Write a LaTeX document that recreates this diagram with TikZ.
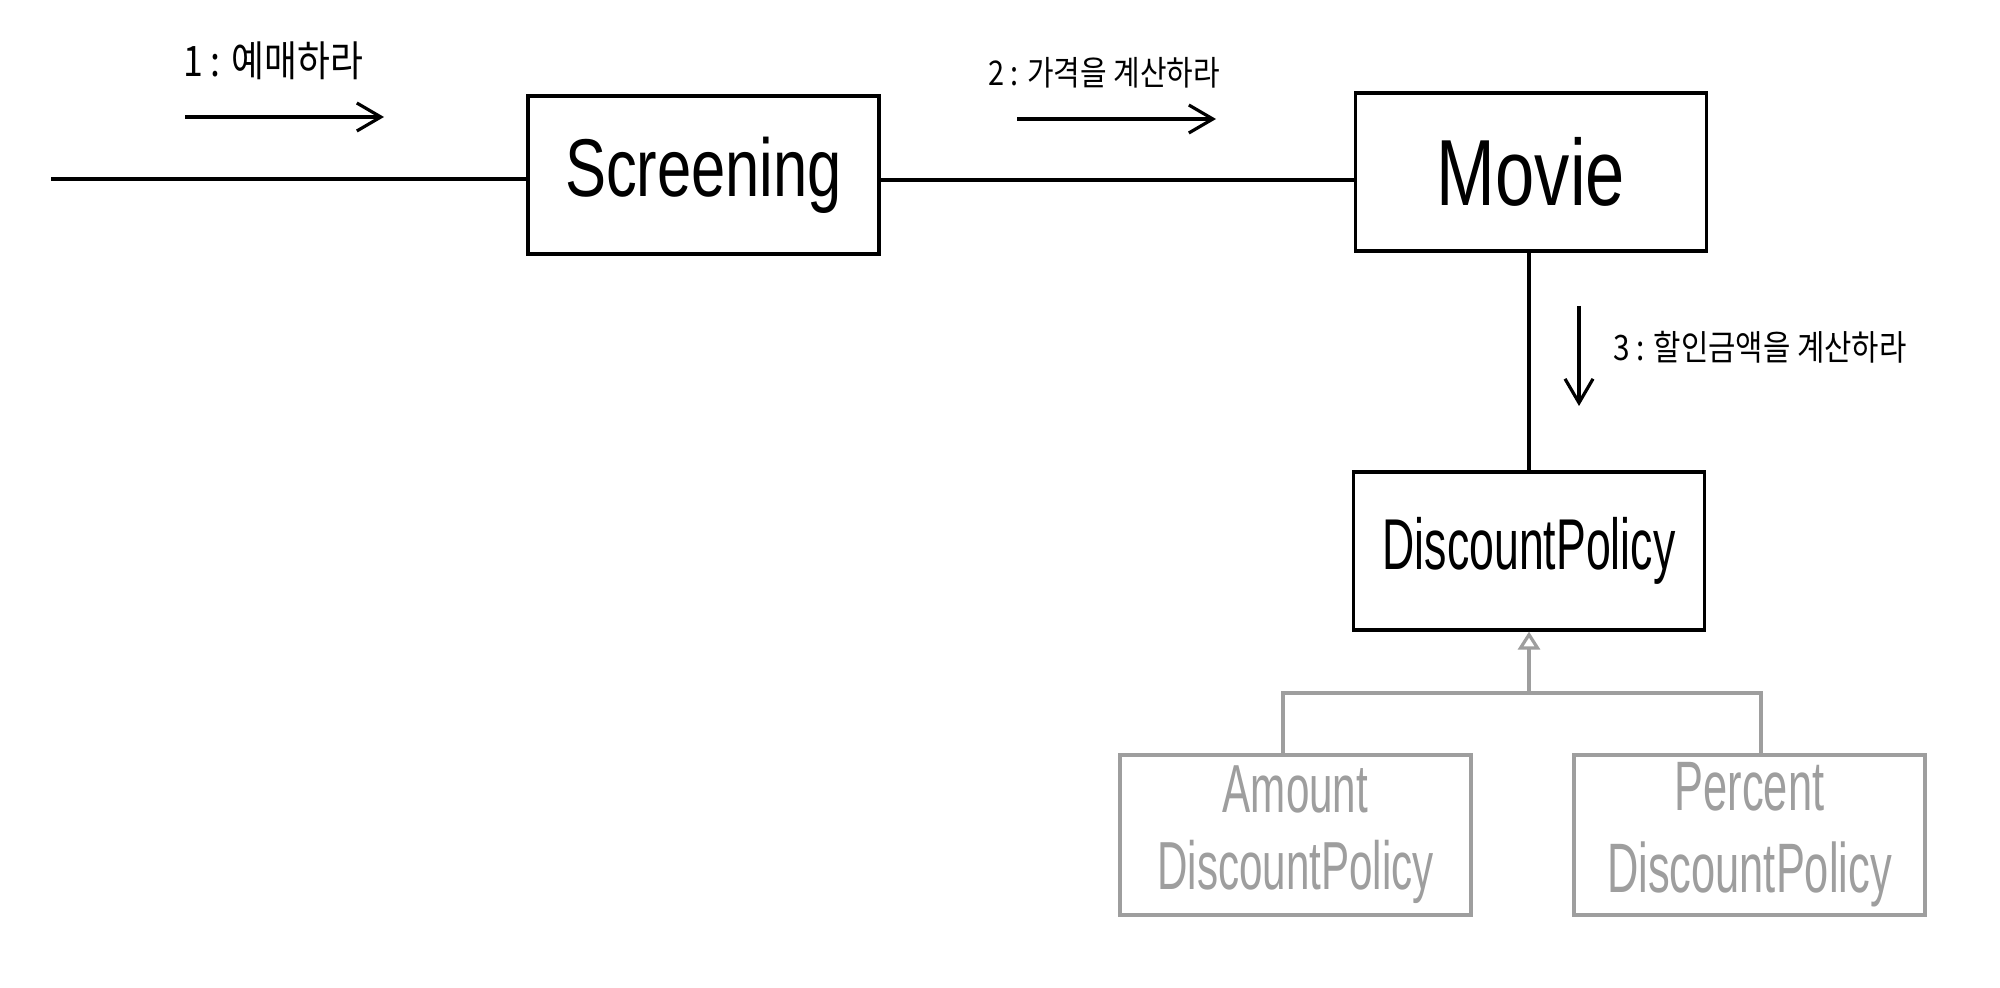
\documentclass[tikz,border=0pt]{standalone}
\usepackage{fontspec}
\usetikzlibrary{arrows.meta}
\newfontfamily\kr[FakeStretch=0.85]{Noto Sans CJK KR}
\newfontfamily\handA[FakeStretch=0.75]{Liberation Sans}
\newfontfamily\handB[FakeStretch=0.62]{Liberation Sans}
\definecolor{ink}{HTML}{000000}
\definecolor{lightink}{HTML}{9E9E9E}
\tikzset{
  cls/.style={draw=ink, line width=1.6pt, rectangle, inner sep=0pt,
    minimum width=175.5pt, minimum height=79pt, align=center, text=ink},
  subcls/.style={cls, draw=lightink, text=lightink, minimum height=80pt},
  link/.style={draw=ink, line width=1.6pt},
  sublink/.style={draw=lightink, line width=1.6pt},
  msg/.style={draw=ink, line width=1.6pt, -{Straight Barb[length=12pt,width=14pt]}},
  gen/.style={sublink, -{Triangle[open,length=9pt,width=11pt,fill=white]}},
  lbl/.style={text=ink, inner sep=0pt}
}
\begin{document}
\begin{tikzpicture}[x=0.5pt, y=-0.5pt]
\useasboundingbox (0,0) rectangle (2000,988);
\fill[white] (0,0) rectangle (2000,988);

% classes
\node[cls, font={\handA\fontsize{41pt}{46pt}\selectfont}] (scr) at (703.5,175) {Screening};
\node[cls, font={\handA\fontsize{47pt}{52pt}\selectfont}] (movie) at (1531,172) {Movie};
\node[cls, font={\handB\fontsize{36pt}{40pt}\selectfont}] (dp) at (1529,551) {DiscountPolicy};
\node[subcls, font={\handB\fontsize{34pt}{38.5pt}\selectfont}] (amount) at (1295.5,835) {Amount\\DiscountPolicy};
\node[subcls, font={\handB\fontsize{35pt}{41pt}\selectfont}] (percent) at (1749.5,835) {Percent\\DiscountPolicy};

% links
\coordinate (start) at (51,179);
\draw[link] (start) -- (start -| scr.west);
\draw[link] (scr.east |- 0,180) coordinate (se) -- (se -| movie.west);
\draw[link] (movie.south -| dp.north) -- (dp.north);

% generalization
\coordinate (jl) at (1283,693);
\coordinate (jr) at (1761,693);
\coordinate (jm) at (1529,693);
\draw[sublink] (amount.north -| jl) -- (jl) -- (jr) -- (percent.north -| jr);
\draw[gen] (jm) -- (dp.south);

% messages
\coordinate (a1s) at (185,117);
\coordinate (a1e) at (384,117);
\draw[msg] (a1s) -- (a1e);
\node[lbl, font={\kr\fontsize{21pt}{24pt}\selectfont}] (l1) at (273,61) {1 : 예매하라};

\coordinate (a2s) at (1017,119);
\coordinate (a2e) at (1216,119);
\draw[msg] (a2s) -- (a2e);
\node[lbl, font={\kr\fontsize{17pt}{20pt}\selectfont}] (l2) at (1104,73) {2 : 가격을 계산하라};

\coordinate (a3s) at (1579,306);
\coordinate (a3e) at (1579,406);
\draw[msg] (a3s) -- (a3e);
\node[lbl, font={\kr\fontsize{17.5pt}{20pt}\selectfont}] (l3) at (1760,347) {3 : 할인금액을 계산하라};
\end{tikzpicture}
\end{document}
